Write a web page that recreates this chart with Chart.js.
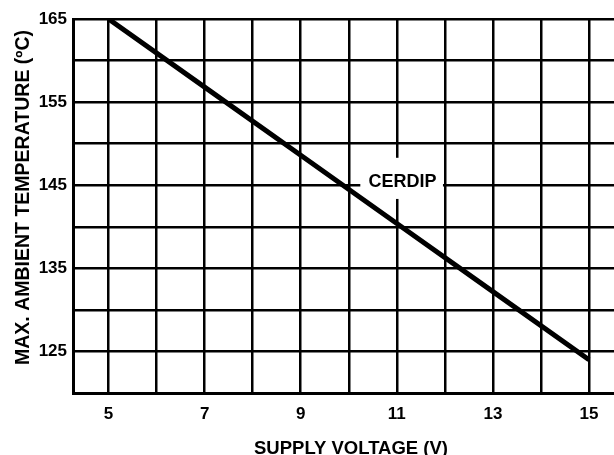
<!DOCTYPE html>
<html lang="en">
<head>
    <meta charset="UTF-8">
    <title>Max Ambient Temperature vs Supply Voltage</title>
    <script src="https://cdn.jsdelivr.net/npm/chart.js"></script>
    <style>
        html, body {
            margin: 0;
            padding: 0;
            background: #fff;
        }
        #wrap {
            width: 614px;
            height: 455px;
        }
    </style>
</head>
<body>
    <div id="wrap">
        <canvas id="myChart" width="614" height="455"></canvas>
    </div>

    <script>
        // supply voltage (V) and max ambient temperature (C) for the CERDIP package
        const voltage = [5, 7, 9, 11, 13, 15];
        const maxTemp = [165, 156.8, 148.6, 140.4, 132.2, 124];

        // grid and tick labels
        const xGrid = [5, 6, 7, 8, 9, 10, 11, 12, 13, 14, 15];
        const xTickLabels = [5, 7, 9, 11, 13, 15];
        const yGrid = [120, 125, 130, 135, 140, 145, 150, 155, 160, 165];
        const yTickLabels = [125, 135, 145, 155, 165];

        const xTitle = 'SUPPLY VOLTAGE (V)';
        const yTitle = 'MAX. AMBIENT TEMPERATURE (ºC)';
        const curveLabel = 'CERDIP';

        const font = 'Liberation Sans, Arial, sans-serif';

        // white box with the curve name (box corners and text centre in data units)
        const curveTag = {
            id: 'curveTag',
            beforeDatasetsDraw(chart) {
                const ctx = chart.ctx;
                const xs = chart.scales.x, ys = chart.scales.y;
                const x0 = xs.getPixelForValue(10.24), x1 = xs.getPixelForValue(11.96);
                const y0 = ys.getPixelForValue(148.3), y1 = ys.getPixelForValue(143.35);
                ctx.save();
                ctx.fillStyle = '#fff';
                ctx.fillRect(x0, y0, x1 - x0, y1 - y0);
                ctx.font = 'bold 18px ' + font;
                ctx.fillStyle = '#000';
                ctx.textAlign = 'center';
                ctx.textBaseline = 'alphabetic';
                ctx.fillText(curveLabel, xs.getPixelForValue(11.12), ys.getPixelForValue(145.6) + 6.5);
                ctx.restore();
            }
        };

        // axis titles
        const axisTitles = {
            id: 'axisTitles',
            afterDraw(chart) {
                const ctx = chart.ctx;
                ctx.save();
                ctx.fillStyle = '#000';
                ctx.textAlign = 'center';
                ctx.textBaseline = 'alphabetic';
                ctx.font = 'bold 18.5px ' + font;
                ctx.fillText(xTitle, 351, 454);
                ctx.translate(28.5, 197.5);
                ctx.rotate(-Math.PI / 2);
                ctx.font = 'bold 19.5px ' + font;
                ctx.fillText(yTitle, 0, 0);
                ctx.restore();
            }
        };

        let ctx = document.getElementById('myChart').getContext('2d');
        let myChart = new Chart(ctx, {
            type: 'line',
            data: {
                labels: voltage,
                datasets: [{
                    label: curveLabel,
                    data: voltage.map((v, i) => ({ x: v, y: maxTemp[i] })),
                    borderColor: '#000',
                    borderWidth: 5,
                    borderCapStyle: 'butt',
                    pointRadius: 0,
                    tension: 0,
                    fill: false
                }]
            },
            options: {
                responsive: false,
                animation: false,
                devicePixelRatio: 1,
                layout: {
                    padding: { top: 19, right: 0, bottom: 0, left: 0 }
                },
                plugins: {
                    legend: { display: false },
                    tooltip: { enabled: false }
                },
                scales: {
                    x: {
                        type: 'linear',
                        min: 4.26,
                        max: 15.52,
                        afterBuildTicks: s => { s.ticks = xGrid.map(v => ({ value: v })); },
                        afterFit: s => { s.height = 62; },
                        grid: {
                            color: '#000',
                            lineWidth: 2.5,
                            drawTicks: false
                        },
                        border: { color: '#000', width: 3 },
                        ticks: {
                            autoSkip: false,
                            maxRotation: 0,
                            padding: 11,
                            color: '#000',
                            font: { family: font, size: 17, weight: 'bold' },
                            callback: v => xTickLabels.includes(v) ? String(v) : ''
                        }
                    },
                    y: {
                        type: 'linear',
                        min: 120,
                        max: 165,
                        afterBuildTicks: s => { s.ticks = yGrid.map(v => ({ value: v })); },
                        afterFit: s => { s.width = 73; },
                        grid: {
                            color: '#000',
                            lineWidth: 2.5,
                            drawTicks: false
                        },
                        border: { color: '#000', width: 3 },
                        ticks: {
                            autoSkip: false,
                            padding: 6,
                            color: '#000',
                            font: { family: font, size: 17, weight: 'bold' },
                            callback: v => yTickLabels.includes(v) ? String(v) : ''
                        }
                    }
                }
            },
            plugins: [curveTag, axisTitles]
        });
    </script>
</body>
</html>
